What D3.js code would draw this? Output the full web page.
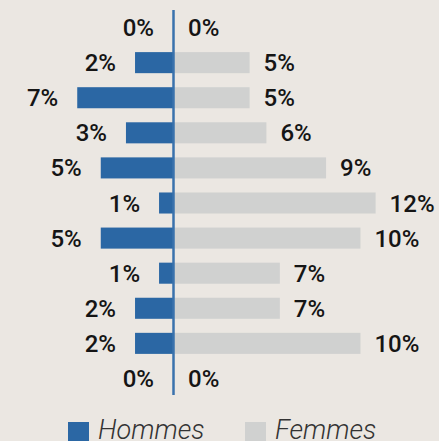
<!DOCTYPE html>
<html><head><meta charset="utf-8">
<script src="https://cdn.jsdelivr.net/npm/d3@7"></script>
<style>
html,body{margin:0;padding:0;background:#ebe7e2;}
svg{display:block;}
</style></head>
<body>
<svg id="chart" width="439" height="441"></svg>
<script>
const rows = ["r0","r1","r2","r3","r4","r5","r6","r7","r8","r9","r10"];
const hommes = [0, 2.26, 5.7, 2.8, 4.3, 0.83, 4.3, 0.83, 2.26, 2.26, 0];
const femmes = [0, 4.5, 4.5, 5.5, 9.05, 12.0, 11.1, 6.3, 6.3, 11.1, 0];
const hommesLabels = ["0%","2%","7%","3%","5%","1%","5%","1%","2%","2%","0%"];
const femmesLabels = ["0%","5%","5%","6%","9%","12%","10%","7%","7%","10%","0%"];
const seriesNames = ["Hommes","Femmes"];
const colors = {Hommes:"#2b67a4", Femmes:"#d0d1d0"};

const svg = d3.select("#chart");
const cx = 173;
const y = d3.scaleBand().domain(rows).range([10, 396]).paddingInner(0.4).paddingOuter(0.2);
const xL = d3.scaleLinear().domain([0, 12]).range([cx, cx - 201.6]);
const xR = d3.scaleLinear().domain([0, 12]).range([cx + 1, cx + 1 + 201.6]);

const labelFont = "Roboto, 'Open Sans', sans-serif";

svg.append("g").selectAll("rect").data(femmes).join("rect")
  .attr("x", xR(0))
  .attr("y", (d,i) => y(rows[i]))
  .attr("width", d => xR(d) - xR(0))
  .attr("height", y.bandwidth())
  .attr("fill", colors.Femmes);

svg.append("g").selectAll("rect").data(hommes).join("rect")
  .attr("x", d => xL(d))
  .attr("y", (d,i) => y(rows[i]))
  .attr("width", d => xL(0) - xL(d))
  .attr("height", y.bandwidth())
  .attr("fill", colors.Hommes);

svg.append("line")
  .attr("x1", cx + 0.5).attr("x2", cx + 0.5)
  .attr("y1", y.range()[0]).attr("y2", y.range()[1] - 1)
  .attr("stroke", "#3a72ad").attr("stroke-width", 2.5);

svg.append("g").selectAll("text").data(hommes).join("text")
  .attr("x", d => xL(d) - 19)
  .attr("y", (d,i) => y(rows[i]) + y.bandwidth()/2 + 8.5)
  .attr("text-anchor", "end")
  .attr("font-family", labelFont).attr("font-weight", 500).attr("font-size", 24)
  .attr("fill", "#151515")
  .text((d,i) => hommesLabels[i]);

svg.append("g").selectAll("text").data(femmes).join("text")
  .attr("x", d => xR(d) + 14)
  .attr("y", (d,i) => y(rows[i]) + y.bandwidth()/2 + 8.5)
  .attr("text-anchor", "start")
  .attr("font-family", labelFont).attr("font-weight", 500).attr("font-size", 24)
  .attr("fill", "#151515")
  .text((d,i) => femmesLabels[i]);

const legendX = [68, 245];
const lg = svg.append("g").selectAll("g").data(seriesNames).join("g")
  .attr("transform", (d,i) => `translate(${legendX[i]},422)`);
lg.append("rect").attr("width", 21).attr("height", 21).attr("fill", d => colors[d]);
lg.append("text")
  .attr("x", 30).attr("y", 17)
  .attr("font-family", labelFont).attr("font-style", "italic").attr("font-weight", 300)
  .attr("font-size", 27).attr("fill", "#333")
  .text(d => d);
</script>
</body></html>
